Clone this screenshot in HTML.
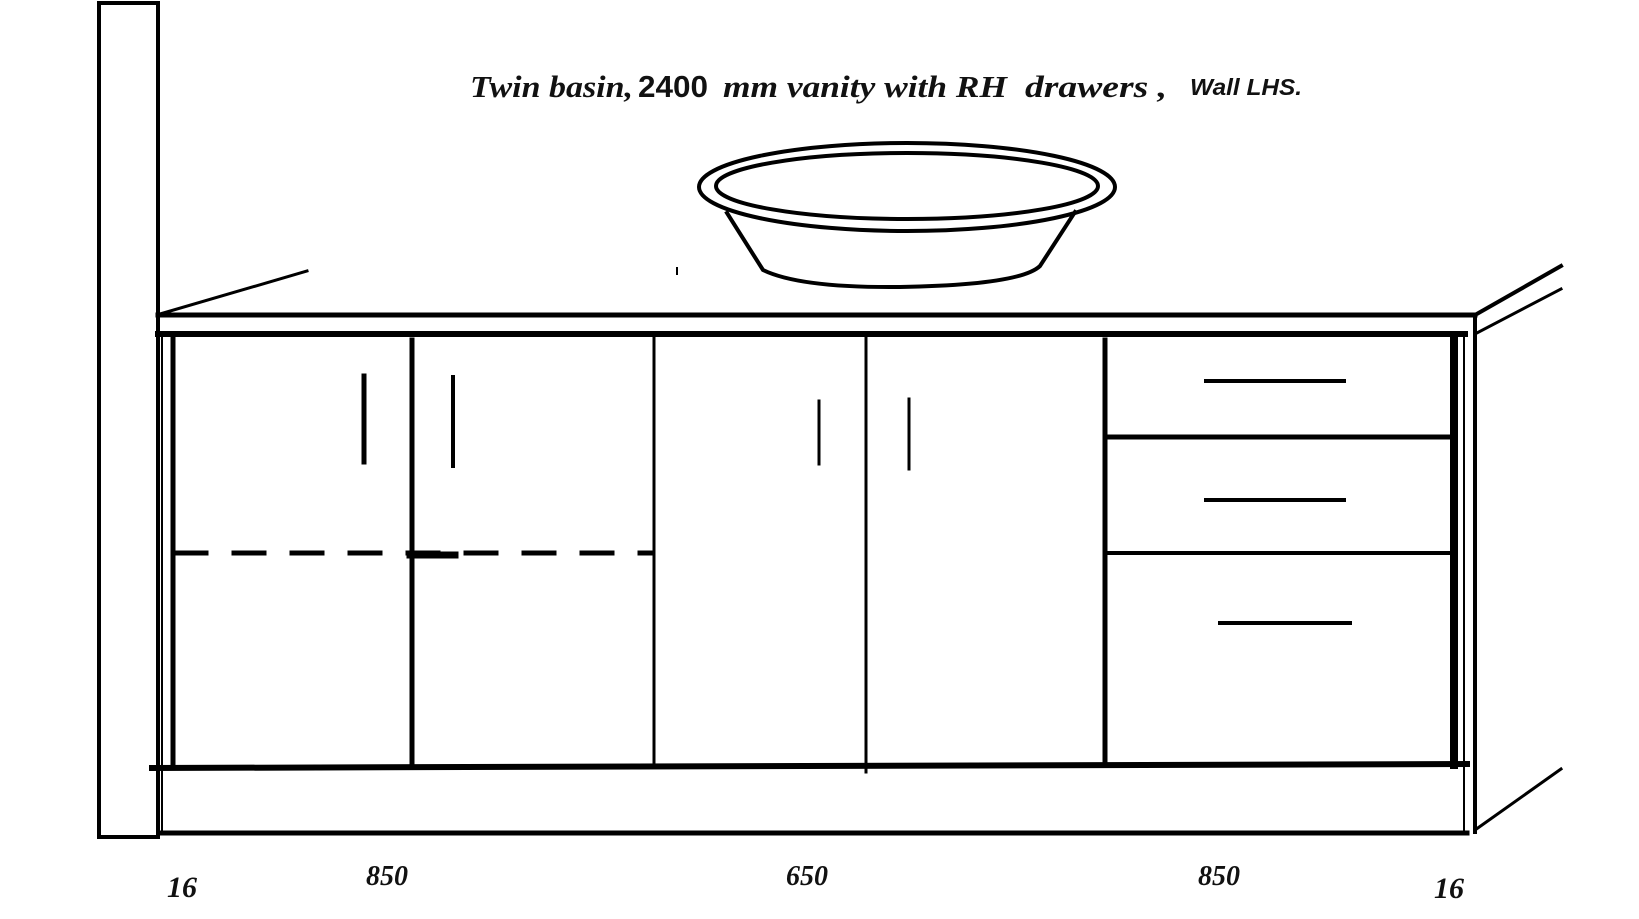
<!DOCTYPE html>
<html><head><meta charset="utf-8"><style>
html,body{margin:0;padding:0;background:#fff;}
svg{display:block;}
</style></head><body>
<svg width="1639" height="919" viewBox="0 0 1639 919" xmlns="http://www.w3.org/2000/svg">
<rect width="1639" height="919" fill="#fff"/>
<g stroke="#000" fill="none" stroke-linecap="square">
<rect x="99" y="3" width="59" height="834" stroke-width="4"/>
<line x1="160" y1="314" x2="307" y2="271" stroke-width="3"/>
<line x1="158" y1="315" x2="1475" y2="315" stroke-width="5"/>
<line x1="158" y1="334" x2="1465" y2="334" stroke-width="6"/>
<line x1="1475" y1="315" x2="1475" y2="832" stroke-width="4"/>
<line x1="1475" y1="315" x2="1561" y2="266" stroke-width="4"/>
<line x1="1475" y1="334" x2="1561" y2="289" stroke-width="3"/>
<line x1="1475" y1="830" x2="1561" y2="769" stroke-width="3"/>
<line x1="173" y1="334" x2="173" y2="767" stroke-width="5"/>
<line x1="162" y1="334" x2="162" y2="832" stroke-width="2"/>
<line x1="412" y1="340" x2="412" y2="767" stroke-width="5"/>
<line x1="654" y1="334" x2="654" y2="765" stroke-width="3"/>
<line x1="866" y1="338" x2="866" y2="772" stroke-width="3"/>
<line x1="1105" y1="340" x2="1105" y2="761" stroke-width="5"/>
<line x1="1454" y1="336" x2="1454" y2="765" stroke-width="8"/>
<line x1="1464" y1="336" x2="1464" y2="832" stroke-width="2"/>
<line x1="152" y1="768" x2="1467" y2="764" stroke-width="6"/>
<line x1="160" y1="833" x2="1467" y2="833" stroke-width="5"/>
<line x1="176" y1="553" x2="651" y2="553" stroke-width="5" stroke-dasharray="30,28"/>
<line x1="410" y1="555" x2="455" y2="555" stroke-width="7"/>
<line x1="364" y1="376" x2="364" y2="462" stroke-width="5"/>
<line x1="453" y1="377" x2="453" y2="466" stroke-width="4"/>
<line x1="819" y1="401" x2="819" y2="464" stroke-width="3"/>
<line x1="909" y1="399" x2="909" y2="469" stroke-width="3"/>
<line x1="1105" y1="437" x2="1451" y2="437" stroke-width="5"/>
<line x1="1105" y1="553" x2="1451" y2="553" stroke-width="4"/>
<line x1="1206" y1="381" x2="1344" y2="381" stroke-width="4"/>
<line x1="1206" y1="500" x2="1344" y2="500" stroke-width="4"/>
<line x1="1220" y1="623" x2="1350" y2="623" stroke-width="4"/>
<ellipse cx="907" cy="187" rx="208" ry="44" stroke-width="4"/>
<ellipse cx="907" cy="186" rx="191" ry="33" stroke-width="4"/>
<path d="M727 213 L763 270 Q800 288 900 287 Q1020 285 1040 266 L1075 212" stroke-width="4"/>
<line x1="677" y1="268" x2="677" y2="274" stroke-width="2"/>
</g>
<g font-family="'Liberation Serif',serif" font-style="italic" font-weight="bold" fill="#111">
<text x="470" y="97" font-size="31" textLength="163" lengthAdjust="spacingAndGlyphs">Twin basin,</text>
<text x="638" y="97" font-size="31" font-family="'Liberation Sans',sans-serif" font-style="normal" textLength="70" lengthAdjust="spacingAndGlyphs">2400</text>
<text x="723" y="97" font-size="31" textLength="284" lengthAdjust="spacingAndGlyphs">mm vanity with RH</text>
<text x="1025" y="97" font-size="31" textLength="142" lengthAdjust="spacingAndGlyphs">drawers ,</text>
<text x="1190" y="95" font-size="23" font-family="'Liberation Sans',sans-serif" textLength="112" lengthAdjust="spacingAndGlyphs">Wall LHS.</text>
<text x="167" y="897" font-size="30">16</text>
<text x="366" y="885" font-size="28">850</text>
<text x="786" y="885" font-size="28">650</text>
<text x="1198" y="885" font-size="28">850</text>
<text x="1434" y="898" font-size="30">16</text>
</g>
</svg>
</body></html>
